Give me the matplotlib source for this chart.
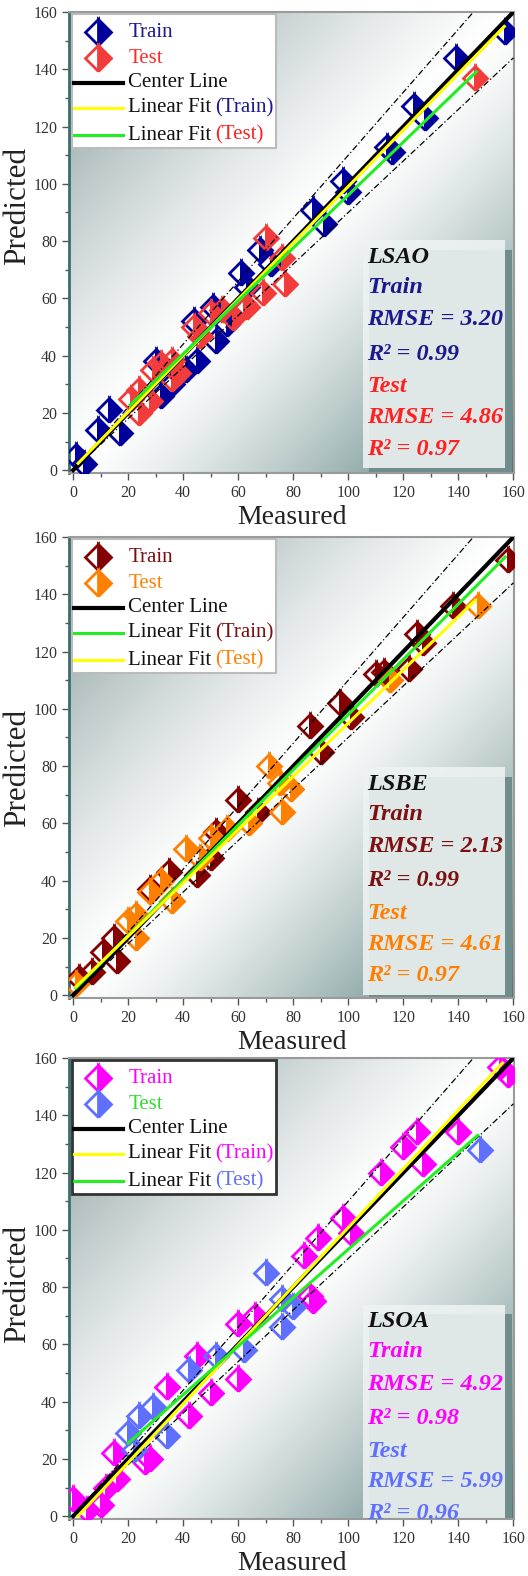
import numpy as np
import matplotlib
matplotlib.use("Agg")
import matplotlib.pyplot as plt
from matplotlib.patches import Rectangle
from matplotlib.ticker import MultipleLocator

plt.rcParams['font.family'] = ['Liberation Serif', 'DejaVu Serif']

# ---- data ----
names = ["LSAO", "LSBE", "LSOA"]

lsao_train_x = [1, 4, 9, 13, 17, 30, 32, 36, 41, 44, 45, 51, 52, 56, 61, 63, 68, 72, 87, 91, 98, 100, 114, 116, 124, 128, 139, 157]
lsao_train_y = [5, 2, 14, 21, 13, 38, 26, 30, 35, 52, 38, 57, 45, 51, 69, 64, 77, 72, 91, 86, 101, 97, 113, 111, 127, 123, 144, 153]
lsao_test_x = [21, 24, 24, 28, 29, 32, 36, 36, 38, 44, 46, 50, 54, 58, 62, 63, 69, 70, 76, 77, 146]
lsao_test_y = [25, 28, 20, 24, 35, 37, 32, 38, 34, 50, 47, 55, 56, 53, 58, 57, 62, 81, 74, 65, 137]

lsbe_train_x = [2, 7, 11, 15, 16, 28, 35, 45, 50, 52, 60, 67, 86, 90, 97, 101, 110, 113, 122, 125, 127, 138, 158]
lsbe_train_y = [6, 8, 15, 20, 12, 37, 43, 42, 48, 57, 68, 64, 94, 85, 102, 97, 112, 113, 114, 126, 123, 136, 152]
lsbe_test_x = [1, 20, 23, 23, 28, 32, 36, 41, 46, 50, 56, 64, 71, 75, 76, 79, 115, 147]
lsbe_test_y = [4, 26, 28, 20, 36, 40, 33, 51, 48, 55, 58, 60, 80, 74, 64, 72, 110, 136]

lsoa_train_x = [0, 5, 10, 12, 16, 15, 26, 28, 34, 42, 45, 50, 60, 60, 66, 84, 86, 87, 89, 98, 101, 112, 120, 125, 127, 140, 155, 158]
lsoa_train_y = [6, 2, 4, 10, 13, 22, 19, 20, 45, 35, 56, 43, 67, 48, 70, 91, 77, 75, 97, 104, 99, 120, 129, 134, 123, 134, 157, 154]
lsoa_test_x = [20, 22, 24, 29, 34, 42, 52, 62, 70, 76, 76, 80, 148]
lsoa_test_y = [29, 23, 35, 38, 28, 51, 56, 58, 85, 66, 76, 73, 128]

# linear fits: slope, intercept, x start, x end
fit_train = [(0.985, 0.6, 1.8, 156.7), (0.965, 1.5, 1.0, 157.0), (1.026, -1.8, 1.8, 156.0)]
fit_test = [(0.925, 3.6, 20.7, 146.5), (0.93, 2.0, 1.0, 146.0), (0.846, 8.6, 20.0, 147.0)]

rmse_train = ["3.20", "2.13", "4.92"]
r2_train = ["0.99", "0.99", "0.98"]
rmse_test = ["4.86", "4.61", "5.99"]
r2_test = ["0.97", "0.97", "0.96"]

train_xy = [(lsao_train_x, lsao_train_y), (lsbe_train_x, lsbe_train_y), (lsoa_train_x, lsoa_train_y)]
test_xy = [(lsao_test_x, lsao_test_y), (lsbe_test_x, lsbe_test_y), (lsoa_test_x, lsoa_test_y)]

# styles
train_col = ["#00009c", "#850000", "#ff00ff"]
test_col = ["#f23c3c", "#ff8000", "#5f6fff"]
train_txt = ["#1a1a8c", "#7a1010", "#ff00ff"]
test_txt = ["#ff2020", "#ff8000", "#5f6fff"]
legend_test_txt = ["#ff2a2a", "#ff8000", "#33dd33"]
fit_train_col = ["#ffff00", "#22ee22", "#ffff00"]
fit_test_col = ["#22ee22", "#ffff00", "#22ee22"]
legend_edge = ["#bbbbbb", "#bbbbbb", "#333333"]
# vertical shift of the metrics block (axes fraction)
box_shift = [0.0, -0.004, -0.04]
ylabel_y = [0.58, 0.5, 0.51]
xlabel_pad = [3, 3, 3]

W, H = 528, 1576
fig = plt.figure(figsize=(W / 100, H / 100), dpi=100)
panel_tops = [12, 537, 1058]

# background gradient (light on the diagonal, darker in the off corners)
n = 200
u, v = np.meshgrid(np.linspace(0, 1, n), np.linspace(1, 0, n))
d = v - u
white = np.array([1.0, 1.0, 1.0])
c_tl = np.array([0x80, 0x96, 0x96]) / 255
c_br = np.array([0x4c, 0x74, 0x74]) / 255
w = np.clip(np.abs(d), 0, 1) ** 1.3
corner = np.where(d[..., None] > 0, c_tl, c_br)
bg = white * (1 - w[..., None]) + corner * w[..., None]

renderer = fig.canvas.get_renderer()

for i in range(3):
    top = panel_tops[i]
    ax = fig.add_axes([69 / W, 1 - (top + 461) / H, 445 / W, 461 / H])
    ax.imshow(bg, extent=(0, 1, 0, 1), transform=ax.transAxes, aspect='auto', zorder=0)

    line = np.array([0, 160])
    ax.plot(line, 1.1 * line, color='black', lw=0.9, ls=(0, (5, 2, 1, 2)), zorder=4)
    ax.plot(line, 0.9 * line, color='black', lw=0.9, ls=(0, (5, 2, 1, 2)), zorder=4)

    tx, ty = train_xy[i]
    ax.plot(tx, ty, 'D', ms=12.5, fillstyle='right', mfc=train_col[i], mfcalt='none',
            mec=train_col[i], mew=2, ls='none', zorder=3)
    sx, sy = test_xy[i]
    ax.plot(sx, sy, 'D', ms=12.5, fillstyle='right', mfc=test_col[i], mfcalt='none',
            mec=test_col[i], mew=2, ls='none', zorder=3)

    ax.plot(line, line, color='black', lw=3, zorder=4)
    for (m, b, x0, x1), col in [(fit_train[i], fit_train_col[i]), (fit_test[i], fit_test_col[i])]:
        xs = np.array([x0, x1])
        ax.plot(xs, m * xs + b, color=col, lw=2.2, zorder=4)

    ax.set_xlim(-1.5, 160.2)
    ax.set_ylim(-1, 160)
    ax.xaxis.set_major_locator(MultipleLocator(20))
    ax.yaxis.set_major_locator(MultipleLocator(20))
    ax.xaxis.set_minor_locator(MultipleLocator(10))
    ax.yaxis.set_minor_locator(MultipleLocator(10))
    ax.tick_params(which='major', direction='out', length=5, width=1, colors='#555555',
                   labelsize=11.5, labelcolor='#333333')
    ax.tick_params(which='minor', direction='out', length=3, width=1, colors='#555555')
    for s in ['top', 'right', 'bottom']:
        ax.spines[s].set_color('#9a9a9a')
        ax.spines[s].set_linewidth(1.5)
    ax.spines['left'].set_color('#3a6e6e')
    ax.spines['left'].set_linewidth(2)
    ax.set_xlabel('Measured', fontsize=20, color='#222222', labelpad=xlabel_pad[i])
    ax.set_ylabel('Predicted', fontsize=22.5, color='#222222')
    ax.yaxis.set_label_coords(-0.082, ylabel_y[i])

    # legend drawn by hand so the bracketed parts can be coloured
    ax.add_patch(Rectangle((0.007, 0.705), 0.458, 0.29, transform=ax.transAxes,
                           facecolor='white', edgecolor=legend_edge[i],
                           lw=1.5 if i < 2 else 2, zorder=6))
    rows = [0.956, 0.900, 0.846, 0.792, 0.733]
    ax.plot([0.065], [rows[0]], 'D', ms=13.5, fillstyle='right', mfc=train_col[i], mfcalt='white',
            mec=train_col[i], mew=2, transform=ax.transAxes, zorder=7)
    ax.plot([0.065], [rows[1]], 'D', ms=13.5, fillstyle='right', mfc=test_col[i], mfcalt='white',
            mec=test_col[i], mew=2, transform=ax.transAxes, zorder=7)
    ax.plot([0.011, 0.121], [rows[2]] * 2, color='black', lw=3, transform=ax.transAxes, zorder=7)
    ax.plot([0.011, 0.121], [rows[3]] * 2, color=fit_train_col[i], lw=2.2, transform=ax.transAxes, zorder=7)
    ax.plot([0.011, 0.121], [rows[4]] * 2, color=fit_test_col[i], lw=2.2, transform=ax.transAxes, zorder=7)
    kw = dict(transform=ax.transAxes, fontsize=15, va='center', ha='left', zorder=8)
    ax.text(0.133, rows[0], 'Train', color=train_txt[i], **kw)
    ax.text(0.133, rows[1], 'Test', color=legend_test_txt[i], **kw)
    ax.text(0.133, rows[2], 'Center Line', color='#111111', **kw)
    for r, part, col in [(rows[3], '(Train)', train_txt[i]), (rows[4], '(Test)', test_txt[i])]:
        t = ax.text(0.133, r, 'Linear Fit', color='#111111', **kw)
        bb = t.get_window_extent(renderer)
        xa = ax.transAxes.inverted().transform((bb.x1 + 4, bb.y0))[0]
        ax.text(xa, r, part, color=col, **kw)

    # metrics box with a shadow
    sh = box_shift[i]
    ax.add_patch(Rectangle((0.675, -0.01 + sh), 0.32, 0.494, transform=ax.transAxes,
                           facecolor='#6f8d8d', edgecolor='none', zorder=2.3, clip_on=True))
    ax.add_patch(Rectangle((0.66, 0.011 + sh), 0.32, 0.494, transform=ax.transAxes,
                           facecolor='#edf2f2', edgecolor='none', alpha=0.9, zorder=2.4,
                           clip_on=True))
    mk = dict(transform=ax.transAxes, fontsize=17.5, fontweight='bold', fontstyle='italic',
              va='center', ha='left', zorder=8)
    ax.text(0.67, 0.468 + sh, names[i], color='#111111', **mk)
    ax.text(0.67, 0.403 + sh, 'Train', color=train_txt[i], **mk)
    ax.text(0.67, 0.332 + sh, 'RMSE = ' + rmse_train[i], color=train_txt[i], **mk)
    ax.text(0.67, 0.258 + sh, 'R\u00b2 = ' + r2_train[i], color=train_txt[i], **mk)
    ax.text(0.67, 0.187 + sh, 'Test', color=test_txt[i], **mk)
    ax.text(0.67, 0.121 + sh, 'RMSE = ' + rmse_test[i], color=test_txt[i], **mk)
    ax.text(0.67, 0.052 + sh, 'R\u00b2 = ' + r2_test[i], color=test_txt[i], **mk)

fig.savefig('out.png', dpi=100)
